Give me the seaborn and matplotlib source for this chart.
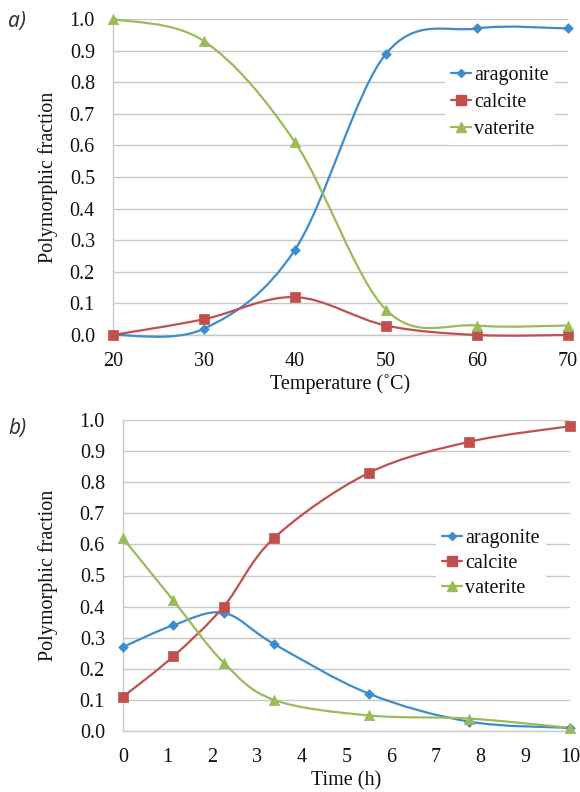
import numpy as np
import matplotlib
matplotlib.use("Agg")
import matplotlib.pyplot as plt
import seaborn as sns
from matplotlib.path import Path
from matplotlib.patches import PathPatch
from matplotlib.lines import Line2D
from matplotlib.font_manager import FontProperties

# panel a) polymorph fraction vs temperature
temp = [20, 30, 40, 50, 60, 70]
arag_a = [0.00, 0.02, 0.27, 0.89, 0.97, 0.97]
calc_a = [0.00, 0.05, 0.12, 0.03, 0.00, 0.00]
vat_a = [1.00, 0.93, 0.61, 0.08, 0.03, 0.03]

# panel b) polymorph fraction vs time
time_h = [0, 1.125, 2.25, 3.375, 5.5, 7.75, 10]
arag_b = [0.27, 0.34, 0.38, 0.28, 0.12, 0.03, 0.01]
calc_b = [0.11, 0.24, 0.40, 0.62, 0.83, 0.93, 0.98]
vat_b = [0.62, 0.42, 0.22, 0.10, 0.05, 0.04, 0.01]

names = ["aragonite", "calcite", "vaterite"]
colors = ["#3C8DCB", "#C0504D", "#9BBB59"]
markers = ["D", "s", "^"]
msizes = [24, 52, 56]

sns.set_style("white")
SERIF = "Liberation Serif"
FS = 14.5
plt.rcParams["font.family"] = [SERIF, "DejaVu Serif"]


def smooth_path(x, y):
    # Excel-like smoothed line: cubic bezier through every point
    p = np.column_stack([x, y]).astype(float)
    n = len(p)
    verts = [p[0]]
    codes = [Path.MOVETO]
    for i in range(n - 1):
        p0 = p[i - 1] if i > 0 else p[i]
        p3 = p[i + 2] if i + 2 < n else p[i + 1]
        c1 = p[i] + (p[i + 1] - p0) / 6.0
        c2 = p[i + 1] - (p3 - p[i]) / 6.0
        verts += [c1, c2, p[i + 1]]
        codes += [Path.CURVE4] * 3
    return Path(verts, codes)


def panel(ax, x, series, xlim, xticks, xlabel, legend_anchor, lspace):
    for yv, c, m, s in zip(series, colors, markers, msizes):
        ax.add_patch(PathPatch(smooth_path(x, yv), facecolor="none",
                               edgecolor=c, lw=1.6, zorder=3, clip_on=False))
        sns.scatterplot(x=x, y=yv, ax=ax, marker=m, s=s, color=c,
                        edgecolor=c, linewidth=0.5, zorder=4, clip_on=False)
    ax.set_xlim(xlim)
    ax.set_ylim(0, 1.0)
    ax.set_xticks(xticks)
    ax.set_xticklabels([str(v) for v in xticks], family=SERIF, fontsize=FS)
    yt = np.arange(0, 1.01, 0.1)
    ax.set_yticks(yt)
    ax.set_yticklabels([f"{v:.1f}" for v in yt], family=SERIF, fontsize=FS)
    ax.grid(axis="y", color="#C8C8C8", lw=1.0)
    ax.set_axisbelow(True)
    for sp in ["top", "right"]:
        ax.spines[sp].set_visible(False)
    for sp in ["left", "bottom"]:
        ax.spines[sp].set_color("#C8C8C8")
        ax.spines[sp].set_linewidth(1.0)
    ax.tick_params(axis="both", length=5, color="#C8C8C8", direction="out",
                   labelcolor="#111111")
    ax.tick_params(axis="y", pad=8)
    ax.tick_params(axis="x", pad=7)
    ax.set_xlabel(xlabel, fontsize=FS, family=SERIF, color="#111111")
    ax.set_ylabel("Polymorphic fraction", fontsize=FS, family=SERIF,
                  color="#111111")
    handles = [Line2D([], [], color=c, marker=m, lw=1.6,
                      markersize=ms, markeredgecolor=c)
               for c, m, ms in zip(colors, markers, [4.5, 6.5, 6.5])]
    leg = ax.legend(handles, names, loc="upper left",
                    bbox_to_anchor=legend_anchor, frameon=True,
                    facecolor="white", edgecolor="none", framealpha=1,
                    prop=FontProperties(family=SERIF, size=FS),
                    handlelength=1.0, handletextpad=0.15,
                    labelspacing=lspace, borderpad=0.3, borderaxespad=0)
    for t in leg.get_texts():
        t.set_color("#111111")
    leg.set_zorder(5)


fig = plt.figure(figsize=(5.8, 7.92), dpi=100)
ax1 = fig.add_axes([113 / 580, 1 - 335 / 792, 455 / 580, 316 / 792])
ax2 = fig.add_axes([123 / 580, 1 - 731 / 792, 447 / 580, 311 / 792])

panel(ax1, temp, [arag_a, calc_a, vat_a], (20, 70), range(20, 71, 10),
      "Temperature (˚C)", (0.73, 0.87), 0.38)
panel(ax2, time_h, [arag_b, calc_b, vat_b], (0, 10), range(0, 11),
      "Time (h)", (0.70, 0.67), 0.31)

ax1.yaxis.set_label_coords(-0.121, 0.5)
ax2.yaxis.set_label_coords(-0.146, 0.5)
ax1.xaxis.set_label_coords(0.5, -0.125)
ax2.xaxis.set_label_coords(0.5, -0.13)

fig.text(8 / 580, 1 - 22 / 792, "a)", fontsize=15, style="italic",
         family="Noto Sans", va="center", ha="left", color="#333333")
fig.text(8 / 580, 1 - 428 / 792, "b)", fontsize=15, style="italic",
         family="Noto Sans", va="center", ha="left", color="#333333")

fig.savefig("out.png", dpi=100)
